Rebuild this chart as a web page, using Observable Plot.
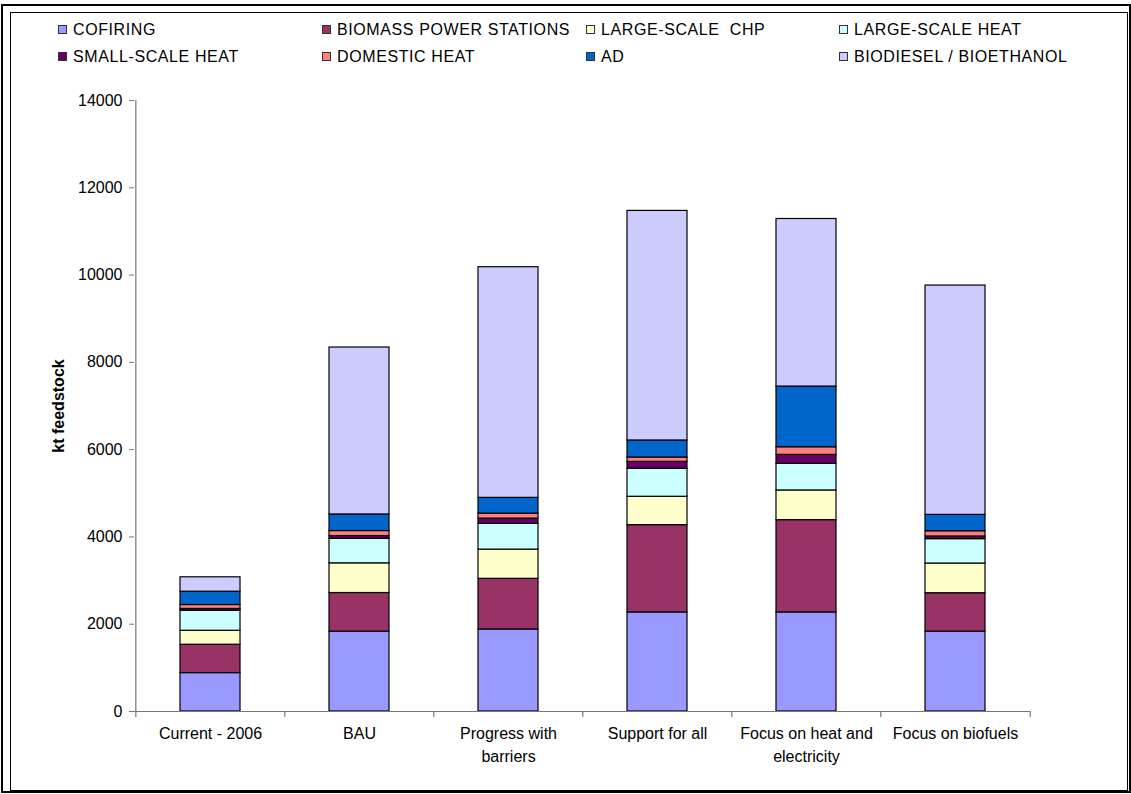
<!DOCTYPE html>
<html>
<head>
<meta charset="utf-8">
<script src="https://cdn.jsdelivr.net/npm/d3@7"></script>
<script src="https://cdn.jsdelivr.net/npm/@observablehq/plot@0.6"></script>
<style>
  html, body { margin: 0; padding: 0; background: #fff; }
  #page { position: relative; width: 1131px; height: 794px; overflow: hidden; font-family: "Liberation Sans", Arial, sans-serif; }
  .frame-outer { position: absolute; left: 1px; top: 4px; width: 1126px; height: 785px; border: 2px solid #000; }
  .frame-inner { position: absolute; left: 10px; top: 12px; width: 1116px; height: 777px; border: 1px solid #000; }
  #chart { position: absolute; left: 0; top: 0; }
  #legend { position: absolute; left: 0; top: 0; width: 1131px; height: 80px; }
  .item { position: absolute; font-size: 16px; line-height: 18px; letter-spacing: 0.6px; color: #000; white-space: pre; }
  .sw { display: inline-block; width: 7px; height: 7px; border: 1px solid #333; margin-right: 6px; vertical-align: 1px; }
</style>
</head>
<body>
<div id="page">
  <div class="frame-outer"></div>
  <div class="frame-inner"></div>
  <div id="chart"></div>
  <div id="legend"></div>
</div>
<script>
// Scenarios along the x axis
const scenarios = [
  "Current - 2006",
  "BAU",
  "Progress with\nbarriers",
  "Support for all",
  "Focus on heat and\nelectricity",
  "Focus on biofuels"
];

// Feedstock use per technology (kt), one value per scenario
const cofiring       = [880, 1830, 1880, 2270, 2270, 1830];
const biomassPower   = [650, 885, 1160, 2000, 2115, 880];
const largeScaleCHP  = [320, 680, 670, 650, 680, 680];
const largeScaleHeat = [460, 560, 590, 640, 610, 560];
const smallScaleHeat = [40, 65, 120, 160, 205, 60];
const domesticHeat   = [90, 115, 115, 100, 175, 120];
const anaerobicDig   = [305, 380, 360, 390, 1390, 375];
const biofuels       = [330, 3825, 5285, 5260, 3840, 5255];

// Series names (stack order bottom to top) and their fills
const seriesNames = [
  "COFIRING",
  "BIOMASS POWER STATIONS",
  "LARGE-SCALE  CHP",
  "LARGE-SCALE HEAT",
  "SMALL-SCALE HEAT",
  "DOMESTIC HEAT",
  "AD",
  "BIODIESEL / BIOETHANOL"
];
const seriesColors = ["#9999FF", "#993366", "#FFFFCC", "#CCFFFF", "#660066", "#FF8080", "#0066CC", "#CCCCFF"];
const seriesValues = [cofiring, biomassPower, largeScaleCHP, largeScaleHeat, smallScaleHeat, domesticHeat, anaerobicDig, biofuels];

// Y axis ticks
const yTicks = [0, 2000, 4000, 6000, 8000, 10000, 12000, 14000];
const yLabel = "kt feedstock";

// Tidy rows for the stacked bars
const rows = [];
seriesNames.forEach((name, s) => {
  scenarios.forEach((sc, i) => rows.push({scenario: sc, series: name, value: seriesValues[s][i]}));
});

const W = 1131, H = 794;
const mLeft = 134, mRight = 101, mTop = 100, mBottom = 83;
const step = (W - mLeft - mRight) / scenarios.length;
const innerH = H - mTop - mBottom;

const plot = Plot.plot({
  width: W,
  height: H,
  marginLeft: mLeft,
  marginRight: mRight,
  marginTop: mTop,
  marginBottom: mBottom,
  style: {fontFamily: "Liberation Sans, Arial, sans-serif", fontSize: "16px", color: "#000", background: "transparent", overflow: "visible"},
  x: {domain: scenarios, paddingInner: 0.6, paddingOuter: 0.3, label: null},
  y: {domain: [0, 14000], label: null},
  color: {domain: seriesNames, range: seriesColors},
  marks: [
    Plot.barY(rows, Plot.stackY({
      x: "scenario",
      y: "value",
      fill: "series",
      order: seriesNames,
      stroke: "#000",
      strokeWidth: 1.2
    })),
    // y axis line
    Plot.ruleX([scenarios[0]], {dx: -step / 2, stroke: "#777", strokeWidth: 1.2}),
    // x axis line
    Plot.ruleY([0], {stroke: "#777", strokeWidth: 1.2}),
    // category separators below the x axis
    Plot.ruleX(scenarios, {dx: -step / 2, insetTop: innerH, insetBottom: -6, stroke: "#777", strokeWidth: 1.2}),
    Plot.ruleX([scenarios[scenarios.length - 1]], {dx: step / 2, insetTop: innerH, insetBottom: -6, stroke: "#777", strokeWidth: 1.2}),
    Plot.axisY({ticks: yTicks, tickSize: 5, tickPadding: 7, tickFormat: d => String(d), stroke: "#777", label: null}),
    Plot.axisX({tickSize: 0, tickPadding: 11, lineHeight: 1.45, label: null}),
    Plot.text([yLabel], {text: d => d, frameAnchor: "left", textAnchor: "middle", rotate: -90, dx: -76, fontWeight: "bold", fontSize: 16})
  ]
});
document.getElementById("chart").appendChild(plot);

// Legend: two rows of four entries
const legendX = [58, 322, 586, 839];
const legendY = [21, 48];
const legend = document.getElementById("legend");
seriesNames.forEach((name, i) => {
  const row = i < 4 ? 0 : 1;
  const col = i % 4;
  const el = document.createElement("div");
  el.className = "item";
  el.style.left = legendX[col] + "px";
  el.style.top = legendY[row] + "px";
  const sw = document.createElement("span");
  sw.className = "sw";
  sw.style.background = seriesColors[i];
  el.appendChild(sw);
  el.appendChild(document.createTextNode(name));
  legend.appendChild(el);
});
</script>
</body>
</html>
